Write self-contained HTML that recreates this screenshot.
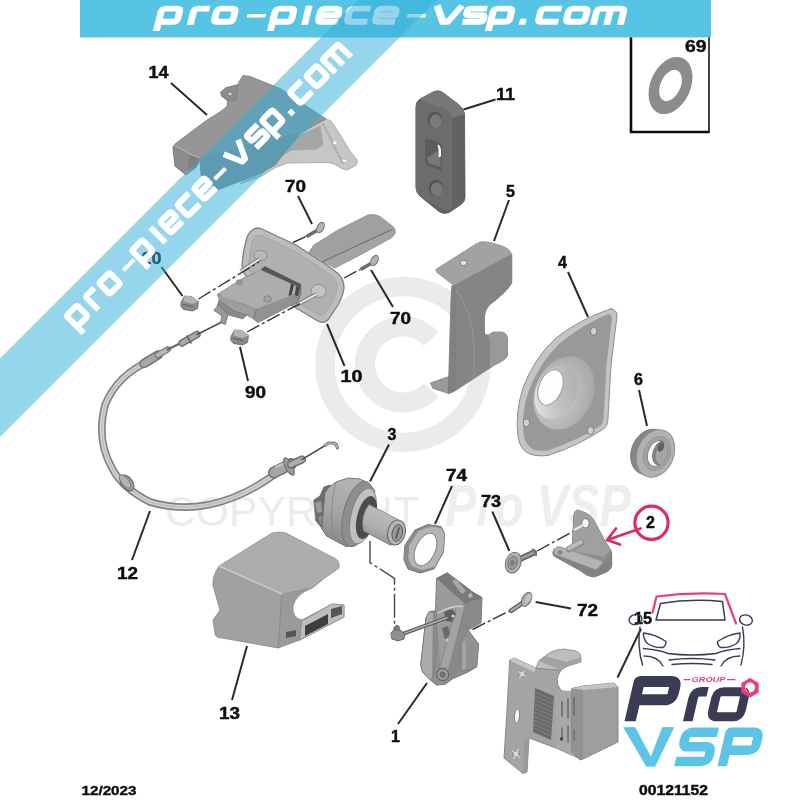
<!DOCTYPE html>
<html><head><meta charset="utf-8"><title>pro-piece-vsp.com</title>
<style>html,body{margin:0;padding:0;background:#fff;width:800px;height:800px;overflow:hidden;font-family:"Liberation Sans",sans-serif}svg{display:block}</style>
</head><body>
<svg width="800" height="800" viewBox="0 0 800 800" font-family="'Liberation Sans', sans-serif"><defs><filter id="soft" filterUnits="userSpaceOnUse" x="-20" y="-20" width="840" height="840"><feGaussianBlur stdDeviation="0.6"/></filter></defs>
<g filter="url(#soft)">
<rect x="-20" y="-20" width="840" height="840" fill="#fff"/>
<circle cx="403" cy="364.5" r="78" fill="none" stroke="#ebebeb" stroke-width="19.5"/><path d="M431.2,339.1A38,38 0 1 0 431.2,389.9" fill="none" stroke="#ebebeb" stroke-width="20"/><text x="165" y="526" font-size="43" fill="#ececec" textLength="254" lengthAdjust="spacingAndGlyphs">COPYRIGHT</text><text x="445" y="526" font-size="59" font-style="italic" font-weight="700" fill="#eeeeee" textLength="186" lengthAdjust="spacingAndGlyphs">Pro VSP</text>
<defs>
<linearGradient id="gA" x1="0" y1="0" x2="1" y2="1"><stop offset="0" stop-color="#a6a6a6"/><stop offset="1" stop-color="#8a8a8a"/></linearGradient>
<linearGradient id="gB" x1="0" y1="0" x2="0" y2="1"><stop offset="0" stop-color="#c4c4c4"/><stop offset="1" stop-color="#a2a2a2"/></linearGradient>
<linearGradient id="gC" x1="0" y1="0" x2="1" y2="0"><stop offset="0" stop-color="#8e8e8e"/><stop offset="0.5" stop-color="#d8d8d8"/><stop offset="1" stop-color="#8e8e8e"/></linearGradient>
<radialGradient id="gD" cx="0.4" cy="0.6" r="0.65"><stop offset="0" stop-color="#d4d4d4"/><stop offset="1" stop-color="#a6a6a6"/></radialGradient>
<linearGradient id="gE" x1="1" y1="0" x2="0" y2="1"><stop offset="0" stop-color="#a8a8a8"/><stop offset="0.6" stop-color="#c8c8c8"/><stop offset="1" stop-color="#efefef"/></linearGradient>
<linearGradient id="gCyl" x1="0.3" y1="0" x2="0" y2="1"><stop offset="0" stop-color="#bdbdbd"/><stop offset="0.45" stop-color="#b0b0b0"/><stop offset="1" stop-color="#858585"/></linearGradient>
<linearGradient id="gDrum" x1="0.5" y1="0" x2="0.35" y2="1"><stop offset="0" stop-color="#b4b4b4"/><stop offset="0.5" stop-color="#a6a6a6"/><stop offset="1" stop-color="#868686"/></linearGradient>
</defs><polygon points="300,128 325,118.5 331,121 340,134.5 349,149.5 357.5,160.5 356.5,165 347.5,170 341.5,168.5 334,164 328,162.5 287.5,163 275.5,167.5 262,176 240,184" fill="#c6c6c6" stroke="#a2a2a2" stroke-width="0.8" stroke-linejoin="round" /><polygon points="300,135 320.5,125.5 323.5,145 316,149.5 292,150.5 262,166" fill="#a6a6a6" /><path d="M323,124Q329,135 336,150L343,163" fill="none" stroke="#b0b0b0" stroke-width="2.2" stroke-linejoin="round" stroke-linecap="round" /><ellipse cx="334.8" cy="142.8" rx="1.8" ry="1.5" fill="#f6f6f6"/><ellipse cx="344.5" cy="160.8" rx="3" ry="1.9" transform="rotate(20 344.5 160.8)" fill="#f6f6f6" stroke="#999" stroke-width="0.6"/><polygon points="243,75.5 250,76.5 280,88.5 326,119 300,133 275,165 262,172.5 217.5,190 201,175 200,160 196,167.5 186,175 175,166 173,147 175,144 207,120 220,112 227,106.5 227.5,100.5 221.5,96 220.75,92.25 226,87.75 238,84.75 239.5,81" fill="#969696" stroke="#808080" stroke-width="0.9" stroke-linejoin="round" /><polygon points="173,147 189.5,154 188,169.5 182.5,172 175,166" fill="#8c8c8c" stroke="#7d7d7d" stroke-width="0.6" stroke-linejoin="round" /><polygon points="189.5,154 200,158 196,167.5 188,169.5" fill="#7f7f7f" /><polygon points="200,158 262,141 300,133 275,165 262,172.5 217.5,190 201,175" fill="#8a8a8a" /><path d="M175,145.5L189.5,154L200,158" fill="none" stroke="#b5b5b5" stroke-width="1" stroke-linejoin="round" stroke-linecap="round" /><polygon points="226,87.75 238,84.75 236,100 227.5,100.5 221.5,96 220.75,92.25" fill="#8c8c8c" stroke="#777" stroke-width="0.6" stroke-linejoin="round" /><ellipse cx="230" cy="94" rx="2.4" ry="2" fill="#c9c9c9" stroke="#6f6f6f" stroke-width="0.7"/><path d="M416,106Q416,102 420,99L434,91.5Q438,90 442,92L458,104Q464,109 464.5,114L465,197Q465,202 461,204.5L449,212.5Q444,215 439,211.5L421,197Q416,193 416,188Z" fill="#626262" stroke="#525252" stroke-width="0.8" stroke-linejoin="round" stroke-linecap="round" /><path d="M420,99L434,91.5Q438,90 442,92L458,104Q464,109 464.5,114L452,118Q450,111 445,109L424,101.5Z" fill="#777777" stroke-linejoin="round" stroke-linecap="round" /><path d="M416,108Q416,101 424,102L446,110Q451.5,112 451.5,119V203Q451.5,212 444,209.5L422,197Q416,193 416,187Z" fill="#6c6c6c" stroke="#747474" stroke-width="0.7" stroke-linejoin="round" stroke-linecap="round" /><ellipse cx="435" cy="120" rx="7.2" ry="8.2" fill="#555"/><ellipse cx="435.8" cy="121.2" rx="6" ry="6.8" fill="#7a7a7a"/><ellipse cx="436" cy="188" rx="7.2" ry="8.2" fill="#555"/><ellipse cx="436.8" cy="189.2" rx="6" ry="6.8" fill="#7a7a7a"/><path d="M425,141Q425,138 428,139L439,142.5Q442,143.5 442,147V167Q442,171 439,170L428,165.5Q425,164.5 425,161Z" fill="#5c5c5c" stroke-linejoin="round" stroke-linecap="round" /><path d="M427,158L437,151L440.5,158V167L429,163.5Z" fill="#787878" stroke-linejoin="round" stroke-linecap="round" /><path d="M437.5,144.5Q440.5,145 441,150V156Q440,158 438.5,156.5V150Z" fill="#f6f6f6" stroke-linejoin="round" stroke-linecap="round" /><polygon points="430.6,383 449,376.5 449,393.6 432.8,388.3" fill="#999999" stroke="#7c7c7c" stroke-width="0.8" stroke-linejoin="round" /><path d="M452,286L511.8,254.5V283Q506,293 490,304.5Q484.5,310 484.5,318V334L488,335.2L493.3,332H501.8Q507.5,333 507.5,340V355.5Q506,360 494.5,365L454,391.5L448.7,393.6L448.7,378L451,300Z" fill="#858585" stroke="#787878" stroke-width="0.8" stroke-linejoin="round" stroke-linecap="round" /><path d="M488,335.2L493.3,332H501.8Q507.5,333 507.5,340V355.5Q506,360 494.5,365L490,367.5V342Z" fill="#999999" stroke-linejoin="round" stroke-linecap="round" /><path d="M452,287L456,286V389L449,393Z" fill="#808080" stroke-linejoin="round" stroke-linecap="round" /><path d="M456,290Q472,310 474,345V378" fill="none" stroke="#9a9a9a" stroke-width="0.9" stroke-linejoin="round" stroke-linecap="round" /><path d="M436,269.3L476.3,243.8Q480,241.5 484,241.7L493.3,243.2Q497,244.5 501.8,246Q509,248 511.6,254L454,285.5L437,272.5Z" fill="#a2a2a2" stroke="#8c8c8c" stroke-width="0.8" stroke-linejoin="round" stroke-linecap="round" /><ellipse cx="463.6" cy="262.9" rx="3.3" ry="2.7" fill="#e4e4e4" stroke="#7a7a7a" stroke-width="0.9"/><path d="M611,308.7Q617,309.5 617,316L611,365L607.8,421Q607.5,426 604,428.5Q580,445 548,455.5Q533,457 526,452Q519,446 518,436Q515,412 523,388Q534,358 556,338Q580,319 611,308.7Z" fill="#c4c4c4" stroke="#8e8e8e" stroke-width="1.0" stroke-linejoin="round" stroke-linecap="round" /><path d="M608,314Q612,315 612,319L606.5,365L603.5,419Q603,424 600,426Q578,440 548,450.5Q535,452 530,447Q524,442 523.5,433Q521,412 529,390Q540,362 560,343Q582,325 608,314Z" fill="#999999" stroke-linejoin="round" stroke-linecap="round" /><ellipse cx="564" cy="393" rx="29" ry="38" transform="rotate(24 564 393)" fill="url(#gD)"/><ellipse cx="556" cy="392" rx="20" ry="28" transform="rotate(24 556 392)" fill="url(#gE)"/><ellipse cx="550.5" cy="387.5" rx="11.5" ry="18.5" transform="rotate(22 550.5 387.5)" fill="#fefefe" stroke="#9c9c9c" stroke-width="1"/><ellipse cx="593.7" cy="331.3" rx="3.3" ry="4" fill="#cfcfcf" stroke="#7e7e7e" stroke-width="1"/><ellipse cx="526.5" cy="422.8" rx="3.3" ry="4" fill="#cfcfcf" stroke="#7e7e7e" stroke-width="1"/><ellipse cx="590.6" cy="430.6" rx="3.3" ry="4" fill="#cfcfcf" stroke="#7e7e7e" stroke-width="1"/><clipPath id="c6"><ellipse cx="657.5" cy="453.5" rx="9.6" ry="13.6" transform="rotate(22 657.5 453.5)"/></clipPath><ellipse cx="649.5" cy="452" rx="18" ry="23.5" transform="rotate(22 649.5 452)" fill="#868686" stroke="#777" stroke-width="0.8"/><ellipse cx="655.5" cy="453.5" rx="18.3" ry="24.6" transform="rotate(22 655.5 453.5)" fill="#b1b1b1" stroke="#8a8a8a" stroke-width="0.9"/><ellipse cx="657" cy="453.5" rx="13" ry="17.6" transform="rotate(22 657 453.5)" fill="#a2a2a2" stroke="#929292" stroke-width="0.7"/><ellipse cx="657.5" cy="453.5" rx="9.6" ry="13.6" transform="rotate(22 657.5 453.5)" fill="#fbfbfb" stroke="#7a7a7a" stroke-width="0.8"/><g clip-path="url(#c6)"><ellipse cx="662.3" cy="453" rx="9.6" ry="13.6" transform="rotate(22 662.3 453)" fill="#828282"/><ellipse cx="664.3" cy="453" rx="8" ry="12" transform="rotate(22 664.3 453)" fill="#a6a6a6"/><ellipse cx="661" cy="447" rx="3" ry="5" transform="rotate(22 661 447)" fill="#5e5e5e"/></g><ellipse cx="670.5" cy="85.5" rx="20" ry="30" transform="rotate(24 670.5 85.5)" fill="#8c8c8c"/><ellipse cx="670.5" cy="85.5" rx="10" ry="16.5" transform="rotate(24 670.5 85.5)" fill="#fff"/><path d="M150,361Q118,374 105,405Q96,440 112,468Q122,488 150,502Q190,514 232,498Q258,488 280,470" fill="none" stroke="#808080" stroke-width="7.6" stroke-linejoin="round" stroke-linecap="round" /><path d="M150,361Q118,374 105,405Q96,440 112,468Q122,488 150,502Q190,514 232,498Q258,488 280,470" fill="none" stroke="#d2d2d2" stroke-width="4.4" stroke-linejoin="round" stroke-linecap="round" /><path d="M150,361Q118,374 105,405Q96,440 112,468Q122,488 150,502Q190,514 232,498Q258,488 280,470" fill="none" stroke="#bdbdbd" stroke-width="1.4" stroke-linejoin="round" stroke-linecap="round" /><path d="M144,363.5L158,355" fill="none" stroke="#707070" stroke-width="9.6" stroke-linejoin="round" stroke-linecap="round" stroke-linecap="butt"/><path d="M144,363.5L158,355" fill="none" stroke="#a8a8a8" stroke-width="6.6" stroke-linejoin="round" stroke-linecap="round" stroke-linecap="butt"/><path d="M158,355L167.5,349.5" fill="none" stroke="#7a7a7a" stroke-width="6.6" stroke-linejoin="round" stroke-linecap="round" stroke-linecap="butt"/><path d="M158,355L167.5,349.5" fill="none" stroke="#b8b8b8" stroke-width="4" stroke-linejoin="round" stroke-linecap="round" stroke-linecap="butt"/><path d="M167.5,349.5L182,342.5" fill="none" stroke="#666" stroke-width="2.2" stroke-linejoin="round" stroke-linecap="round" /><path d="M182,343L197,334.5" fill="none" stroke="#6f6f6f" stroke-width="7.4" stroke-linejoin="round" stroke-linecap="round" stroke-linecap="butt"/><path d="M182,343L197,334.5" fill="none" stroke="#a9a9a9" stroke-width="4.6" stroke-linejoin="round" stroke-linecap="round" stroke-linecap="butt"/><path d="M187,336L191,343" fill="none" stroke="#6a6a6a" stroke-width="1.6" stroke-linejoin="round" stroke-linecap="round" /><path d="M197,334.5L221,322.5" fill="none" stroke="#4a4a4a" stroke-width="1.4" stroke-linejoin="round" stroke-linecap="round" /><ellipse cx="127" cy="483" rx="5.5" ry="9" transform="rotate(-38 127 483)" fill="#9c9c9c" stroke="#666" stroke-width="1.1"/><ellipse cx="125" cy="481.5" rx="3.6" ry="8" transform="rotate(-38 125 481.5)" fill="#b4b4b4" stroke="#777" stroke-width="0.8"/><path d="M274,472.5L291,464" fill="none" stroke="#6f6f6f" stroke-width="12" stroke-linejoin="round" stroke-linecap="round" stroke-linecap="butt"/><path d="M274,472.5L291,464" fill="none" stroke="#a6a6a6" stroke-width="9" stroke-linejoin="round" stroke-linecap="round" stroke-linecap="butt"/><path d="M276,467L288,461.5" fill="none" stroke="#c4c4c4" stroke-width="2.4" stroke-linejoin="round" stroke-linecap="round" stroke-linecap="butt"/><ellipse cx="289" cy="466.5" rx="3.6" ry="9.6" transform="rotate(-27 289 466.5)" fill="#9a9a9a" stroke="#646464" stroke-width="1"/><path d="M291,464.5L302,459.5" fill="none" stroke="#707070" stroke-width="8" stroke-linejoin="round" stroke-linecap="round" stroke-linecap="butt"/><path d="M291,464.5L302,459.5" fill="none" stroke="#acacac" stroke-width="5.2" stroke-linejoin="round" stroke-linecap="round" stroke-linecap="butt"/><path d="M302,459.5L326,445" fill="none" stroke="#555" stroke-width="1.5" stroke-linejoin="round" stroke-linecap="round" /><path d="M325,445.5L328.5,443H334Q337,444.5 337.5,448" fill="none" stroke="#777" stroke-width="3.2" stroke-linejoin="round" stroke-linecap="round" /><path d="M325,445.5L328.5,443H334Q337,444.5 337.5,448" fill="none" stroke="#c0c0c0" stroke-width="1.2" stroke-linejoin="round" stroke-linecap="round" /><path d="M309,252L314,245L338,230L368,215Q374,213.5 380,216.5L393.5,227Q396,230 395,233.5L392,237.5L362,254L335,268Z" fill="#a0a0a0" stroke="#888888" stroke-width="0.8" stroke-linejoin="round" stroke-linecap="round" /><path d="M322,262L392,229.5Q396,230.5 395,233.5L392,237.5L362,254L335,268Z" fill="#a4a4a4" stroke-linejoin="round" stroke-linecap="round" /><path d="M322,262L392,229.5" fill="none" stroke="#707070" stroke-width="1.1" stroke-linejoin="round" stroke-linecap="round" /><path d="M252.5,230Q256,227 261,228.5L296,245L326,264.5L338,273.5Q344,279 344,288Q343,296 338,305L329,318.5Q324,325 317,320.5L296,308L250,280Q242,274 242,264.5L243.5,252L246.5,239Q248,233 252.5,230Z" fill="#bcbcbc" stroke="#7f7f7f" stroke-width="1.3" stroke-linejoin="round" stroke-linecap="round" /><path d="M256,236Q259,234 263,236L296,252L324,270L333,277Q338,282 337,289Q336,296 332,303L325,313Q322,317 317,314L296,302L254,276Q248,272 248.5,265L250,253L252,242Q253,238 256,236Z" fill="#b0b0b0" stroke="#9a9a9a" stroke-width="0.6" stroke-linejoin="round" stroke-linecap="round" /><ellipse cx="260.5" cy="255.5" rx="6.5" ry="5.2" fill="#b8b8b8" stroke="#858585" stroke-width="0.8"/><ellipse cx="318.5" cy="291" rx="7.5" ry="6.5" fill="#c4c4c4" stroke="#858585" stroke-width="0.8"/><line x1="260" y1="258.75" x2="240.5" y2="271.5" stroke="#6a6a6a" stroke-width="3.6"/><line x1="260" y1="258.75" x2="240.5" y2="271.5" stroke="#e6e6e6" stroke-width="2"/><path d="M217.8,294.4L243,278.4L260,271L264.7,266.5L301,284.5V294L297.5,302L258,322.5L253.4,318.75L246.9,315L233.75,311.25L220.6,302Z" fill="#8c8c8c" stroke="#707070" stroke-width="0.9" stroke-linejoin="round" stroke-linecap="round" /><polygon points="260,270.5 264.7,266.5 301,284.5 298.4,296.25 294.7,294.4 297.5,286.9" fill="#545454" /><path d="M218.5,293.5L243,278.4L261,270L297.5,286.5L294.7,294.4L256.25,309.4L245,304.7L222.5,297.2Z" fill="#adadad" stroke="#8a8a8a" stroke-width="0.5" stroke-linejoin="round" stroke-linecap="round" /><polygon points="256.25,309.4 294.7,294.4 297.5,302 258,322.5 253.4,318.75" fill="#929292" /><polygon points="217.8,295.3 245,305.6 256.25,310.3 253.4,318.75 246.9,315 233.75,311.25 220.6,302" fill="#9e9e9e" /><path d="M256.25,309.8L253.6,318.5" fill="none" stroke="#6f6f6f" stroke-width="0.8" stroke-linejoin="round" stroke-linecap="round" /><polygon points="291,283.5 294,285 291.5,295 288.5,296" fill="#444" /><polygon points="296,286 298.5,287.5 297,296 295,295" fill="#444" /><ellipse cx="239.4" cy="282.2" rx="3" ry="2.4" fill="#9c9c9c" stroke="#777" stroke-width="0.7"/><ellipse cx="267.5" cy="299" rx="3.8" ry="3.2" fill="#a2a2a2" stroke="#777" stroke-width="0.7"/><polygon points="219,300 234,311 246.9,315 243,319 228,315 217,306" fill="#8a8a8a" stroke="#707070" stroke-width="0.6" stroke-linejoin="round" /><path d="M214,310L218.75,304.7L228,314.5L225.3,324.4L220.6,322.5L221.8,316Z" fill="#9a9a9a" stroke="#6c6c6c" stroke-width="0.8" stroke-linejoin="round" stroke-linecap="round" /><line x1="316.5" y1="294.2" x2="296" y2="305.4" stroke="#6a6a6a" stroke-width="3.8"/><line x1="316.5" y1="294.2" x2="296" y2="305.4" stroke="#e6e6e6" stroke-width="2.2"/><line x1="306.5" y1="236.5" x2="317" y2="230.5" stroke="#5f5f5f" stroke-width="3.4"/><line x1="306.5" y1="236.5" x2="317" y2="230.5" stroke="#8a8a8a" stroke-width="1.2" stroke-dasharray="1 1"/><ellipse cx="320.5" cy="227.5" rx="3.3" ry="5.6" transform="rotate(28 320.5 227.5)" fill="#b2b2b2" stroke="#6a6a6a" stroke-width="0.9"/><line x1="360.5" y1="269.5" x2="371" y2="263.5" stroke="#5f5f5f" stroke-width="3.4"/><line x1="360.5" y1="269.5" x2="371" y2="263.5" stroke="#8a8a8a" stroke-width="1.2" stroke-dasharray="1 1"/><ellipse cx="374.5" cy="260.5" rx="3.3" ry="5.6" transform="rotate(28 374.5 260.5)" fill="#b2b2b2" stroke="#6a6a6a" stroke-width="0.9"/><line x1="198.5" y1="299" x2="259" y2="262" stroke="#333" stroke-width="1.4" stroke-dasharray="14 3 3 3"/><line x1="247" y1="332" x2="300" y2="303.5" stroke="#333" stroke-width="1.4" stroke-dasharray="14 3 3 3"/><line x1="293" y1="242.5" x2="306" y2="236.5" stroke="#333" stroke-width="1.4" stroke-dasharray="14 3 3 3"/><line x1="344" y1="278" x2="360" y2="269.5" stroke="#333" stroke-width="1.4" stroke-dasharray="14 3 3 3"/><path d="M181.0,302.5L184.5,296.0L191.5,296.5L198.5,301.5L197.5,308.5L192.5,311.0L183.5,309.5L181.0,306.5Z" fill="#8a8a8a" stroke="#666" stroke-width="0.8" stroke-linejoin="round" stroke-linecap="round" /><path d="M184.5,296.0L191.5,296.5L198.5,301.5L192.5,304.0L183.5,301.5Z" fill="#b4b4b4" stroke-linejoin="round" stroke-linecap="round" /><path d="M183.5,304.5L192.5,306.5" fill="none" stroke="#5f5f5f" stroke-width="1.2" stroke-linejoin="round" stroke-linecap="round" /><path d="M231.0,336.5L234.5,330.0L241.5,330.5L248.5,335.5L247.5,342.5L242.5,345.0L233.5,343.5L231.0,340.5Z" fill="#8a8a8a" stroke="#666" stroke-width="0.8" stroke-linejoin="round" stroke-linecap="round" /><path d="M234.5,330.0L241.5,330.5L248.5,335.5L242.5,338.0L233.5,335.5Z" fill="#b4b4b4" stroke-linejoin="round" stroke-linecap="round" /><path d="M233.5,338.5L242.5,340.5" fill="none" stroke="#5f5f5f" stroke-width="1.2" stroke-linejoin="round" stroke-linecap="round" /><path d="M219,566Q212,576 213,586L220,610L213,620L215,634Q216,638 222,638L278,648L282,594Z" fill="#a1a1a1" stroke="#8a8a8a" stroke-width="0.8" stroke-linejoin="round" stroke-linecap="round" /><path d="M282,594L278,648L300,640L344,617V605L332,604L302,620Q292,618 293,606Q296,594 312,588L322,580Z" fill="#9a9a9a" stroke="#868686" stroke-width="0.8" stroke-linejoin="round" stroke-linecap="round" /><path d="M302,621L332,604L344,605V617L300,640Z" fill="#bdbdbd" stroke="#868686" stroke-width="0.6" stroke-linejoin="round" stroke-linecap="round" /><path d="M305,626L328,614V624L305,636Z" fill="#3e3e3e" stroke-linejoin="round" stroke-linecap="round" /><path d="M331,609L342,606V614L331,618Z" fill="#555" stroke-linejoin="round" stroke-linecap="round" /><path d="M286,632L296,630V636L286,638Z" fill="#555" stroke-linejoin="round" stroke-linecap="round" /><path d="M219,566L272,533Q280,531 286,533L336,559Q340,562 339,568L322,580L312,588L282,594Z" fill="#adadad" stroke="#8f8f8f" stroke-width="0.8" stroke-linejoin="round" stroke-linecap="round" /><path d="M219,566L282,594" fill="none" stroke="#c9c9c9" stroke-width="1.6" stroke-linejoin="round" stroke-linecap="round" /><path d="M370,541V562.5L394.5,578.5V632" fill="none" stroke="#444" stroke-width="1.4" stroke-dasharray="24 3 3 3"/><path d="M314,500L320,496L324,487L330,485L332,538L326.5,535L321,527L316,521Z" fill="#6e6e6e" stroke="#555" stroke-width="0.7" stroke-linejoin="round" stroke-linecap="round" /><path d="M315,503L321,501L322,512L317,513Z" fill="#9a9a9a" stroke-linejoin="round" stroke-linecap="round" /><path d="M318,517L323,516L324,526L320,524Z" fill="#8a8a8a" stroke-linejoin="round" stroke-linecap="round" /><path d="M325,493L328,488L336,482L348,478L360,479Q370,483 375,491L356,545L346,546.5L326.5,536L322,529Z" fill="url(#gDrum)" stroke="#6d6d6d" stroke-width="0.9" stroke-linejoin="round" stroke-linecap="round" /><path d="M336,482.5Q329,505 333,539" fill="none" stroke="#858585" stroke-width="0.9" stroke-linejoin="round" stroke-linecap="round" /><ellipse cx="358" cy="514" rx="14.5" ry="33.5" transform="rotate(14 358 514)" fill="#8e8e8e" stroke="#747474" stroke-width="0.9"/><ellipse cx="363" cy="516" rx="12" ry="28.5" transform="rotate(14 363 516)" fill="#c0c0c0" stroke="#808080" stroke-width="0.8"/><ellipse cx="366.5" cy="517.5" rx="9.5" ry="22" transform="rotate(14 366.5 517.5)" fill="#4c4c4c"/><path d="M369,504.5L398,519.5L391,545.5L363.5,531Q360,516 369,504.5Z" fill="url(#gCyl)" stroke="#707070" stroke-width="0.7" stroke-linejoin="round" stroke-linecap="round" /><ellipse cx="396.5" cy="532.5" rx="8.8" ry="12.6" transform="rotate(13 396.5 532.5)" fill="#b8b8b8" stroke="#646464" stroke-width="1"/><ellipse cx="397.3" cy="533" rx="5.2" ry="8.6" transform="rotate(13 397.3 533)" fill="#969696" stroke="#555" stroke-width="0.9"/><path d="M399,528L396,538" fill="none" stroke="#555" stroke-width="1.6" stroke-linejoin="round" stroke-linecap="round" /><path d="M405,545L415,530L428,524.5L441,526.5L444.5,533L443.5,552L434,569L420,573L408,569L404,560Z" fill="#8c8c8c" stroke="#6e6e6e" stroke-width="0.9" stroke-linejoin="round" stroke-linecap="round" /><path d="M409,545.5L418,531L430,526L441.5,528L444.5,534L443.5,551L435,567L422,570.5L411.5,566.5L408,559Z" fill="#b4b4b4" stroke="#858585" stroke-width="0.6" stroke-linejoin="round" stroke-linecap="round" /><ellipse cx="425.5" cy="549.5" rx="9.8" ry="17.2" transform="rotate(24 425.5 549.5)" fill="#fdfdfd" stroke="#8a8a8a" stroke-width="1"/><path d="M447,573L436.5,578.4L435.6,610.75L429.5,611.6L426,617.75L420.75,665L422.5,672L431.25,680.75L436.5,685L445.25,684.25L452.25,679L468,672L476.75,666.75L478.5,644L468,630L481,623L482,597.6L473.25,592.4Z" fill="#8e8e8e" stroke="#6c6c6c" stroke-width="0.9" stroke-linejoin="round" stroke-linecap="round" /><path d="M437,578.8L436,611L440,668L452,672L466,604Z" fill="#9b9b9b" stroke-linejoin="round" stroke-linecap="round" /><path d="M465,603.5L482,598L481,623L468,630L461,642V669L452.5,678.5L446,676Z" fill="#898989" stroke-linejoin="round" stroke-linecap="round" /><path d="M447,573.3L437.2,578.6L465,603.5L470.5,600.5L482,597.8L473.25,592.6Z" fill="#7a7a7a" stroke="#6a6a6a" stroke-width="0.5" stroke-linejoin="round" stroke-linecap="round" /><path d="M452,581L456,579L466,591L462,594Z" fill="#a8a8a8" stroke-linejoin="round" stroke-linecap="round" /><path d="M468,594L472,593L472.5,597L469,598Z" fill="#b5b5b5" stroke-linejoin="round" stroke-linecap="round" /><path d="M461,642L468,630L478.5,644L476.75,666.75L461.5,671.5Z" fill="#929292" stroke="#787878" stroke-width="0.6" stroke-linejoin="round" stroke-linecap="round" /><path d="M462,644L466,640V668L462,670Z" fill="#a4a4a4" stroke-linejoin="round" stroke-linecap="round" /><path d="M457,606L465.5,604L449,668L440,668Z" fill="#a3a3a3" stroke="#7a7a7a" stroke-width="0.6" stroke-linejoin="round" stroke-linecap="round" /><path d="M438,613Q450,606 462,606" fill="none" stroke="#d0d0d0" stroke-width="1.4" stroke-linejoin="round" stroke-linecap="round" /><path d="M444,612L452,609L456,614L452,622L446,621Z" fill="#5e5e5e" stroke-linejoin="round" stroke-linecap="round" /><path d="M442,628L448,626L450,634L445,640Z" fill="#6a6a6a" stroke-linejoin="round" stroke-linecap="round" /><circle cx="447" cy="640" r="1.6" fill="#c8c8c8"/><circle cx="453" cy="616" r="1.5" fill="#d4d4d4"/><path d="M429.5,611.6L436,612.5L437,645L434,672L431.25,680.75L422.5,672L420.75,665L426,617.75Z" fill="#ababab" stroke="#757575" stroke-width="0.8" stroke-linejoin="round" stroke-linecap="round" /><path d="M433,613L436,612.5L437,645L434,672L432,676Z" fill="#8a8a8a" stroke-linejoin="round" stroke-linecap="round" /><circle cx="442.6" cy="674.6" r="6" fill="#999" stroke="#5a5a5a" stroke-width="1"/><circle cx="442.6" cy="674.6" r="2.6" fill="#707070" stroke="#5a5a5a" stroke-width="0.6"/><path d="M401.5,634.4L447,617.75" fill="none" stroke="#5e5e5e" stroke-width="3.8" stroke-linejoin="round" stroke-linecap="round" /><path d="M401.5,634.4L447,617.75" fill="none" stroke="#b0b0b0" stroke-width="1.5" stroke-linejoin="round" stroke-linecap="round" /><path d="M391,633L394,629.5L400,630L405,634L404,639L398,641L392,639Z" fill="#909090" stroke="#555" stroke-width="0.8" stroke-linejoin="round" stroke-linecap="round" /><path d="M394,629.5L396,625L399,626L400,630Z" fill="#7c7c7c" stroke="#555" stroke-width="0.6" stroke-linejoin="round" stroke-linecap="round" /><line x1="472.5" y1="629.5" x2="509.5" y2="611" stroke="#333" stroke-width="1.4" stroke-dasharray="14 3 3 3"/><line x1="537" y1="551" x2="585" y2="525" stroke="#333" stroke-width="1.4" stroke-dasharray="14 3 3 3"/><path d="M519,559.5L534,552.5" fill="none" stroke="#5e5e5e" stroke-width="6" stroke-linejoin="round" stroke-linecap="round" stroke-linecap="butt"/><path d="M519,559.5L534,552.5" fill="none" stroke="#9e9e9e" stroke-width="3" stroke-linejoin="round" stroke-linecap="round" stroke-linecap="butt"/><path d="M533,549.5L536,555" fill="none" stroke="#777" stroke-width="2.4" stroke-linejoin="round" stroke-linecap="round" /><ellipse cx="513.3" cy="562.7" rx="7.6" ry="10.6" transform="rotate(18 513.3 562.7)" fill="#b0b0b0" stroke="#707070" stroke-width="1"/><ellipse cx="512.6" cy="562.9" rx="4.6" ry="6.6" transform="rotate(18 512.6 562.9)" fill="#9a9a9a" stroke="#6e6e6e" stroke-width="0.8"/><ellipse cx="512.4" cy="563" rx="2" ry="3" transform="rotate(18 512.4 563)" fill="#7a7a7a"/><path d="M511.5,610.5L524,602" fill="none" stroke="#5e5e5e" stroke-width="5" stroke-linejoin="round" stroke-linecap="round" stroke-linecap="butt"/><path d="M511.5,610.5L524,602" fill="none" stroke="#a6a6a6" stroke-width="2.4" stroke-linejoin="round" stroke-linecap="round" stroke-linecap="butt"/><ellipse cx="526.6" cy="599.4" rx="4.4" ry="7.6" transform="rotate(28 526.6 599.4)" fill="#b4b4b4" stroke="#6c6c6c" stroke-width="1"/><ellipse cx="528" cy="598.6" rx="3" ry="6" transform="rotate(28 528 598.6)" fill="#c4c4c4" stroke="#8a8a8a" stroke-width="0.6"/><path d="M573.7,518Q573.5,510 578,510L585.5,512.8Q590.5,515 593.4,519.4L603.9,539L610.4,549.5Q612,552 611.7,558V566.6Q610,571 603.9,573Q598,576 593.4,577Q586,576 580.2,570.5L554,556Q551.5,552.5 554,549.5Q557,546 560.5,547L571,552L572.4,543Z" fill="#8d8d8d" stroke="#6e6e6e" stroke-width="0.9" stroke-linejoin="round" stroke-linecap="round" /><path d="M573.7,518Q573.5,510 578,510L585.5,512.8Q590.5,515 593.4,519.4L603.9,539L610.4,549.5L604,557L572,551Z" fill="#a0a0a0" stroke-linejoin="round" stroke-linecap="round" /><path d="M554,549.5Q557,546 560.5,547L603,561.5Q600,567 596,570L556,555Q552.5,552.5 554,549.5Z" fill="#b3b3b3" stroke="#8a8a8a" stroke-width="0.5" stroke-linejoin="round" stroke-linecap="round" /><path d="M556,555L596,570Q604,566 610.4,552V566.6Q610,571 603.9,573Q598,576 593.4,577Q586,576 580.2,570.5L554,556Z" fill="#838383" stroke-linejoin="round" stroke-linecap="round" /><path d="M569,549L581,542.5" fill="none" stroke="#8a8a8a" stroke-width="6.5" stroke-linejoin="round" stroke-linecap="round" /><path d="M569,548.5L581,542" fill="none" stroke="#bcbcbc" stroke-width="4" stroke-linejoin="round" stroke-linecap="round" /><ellipse cx="585.5" cy="523.3" rx="3.6" ry="4.6" fill="#fbfbfb" stroke="#747474" stroke-width="0.9"/><path d="M585,524L575,529.5" fill="none" stroke="#e6e6e6" stroke-width="2.2" stroke-linejoin="round" stroke-linecap="round" /><ellipse cx="560" cy="552.5" rx="2" ry="1.7" fill="#8a8a8a" stroke="#666" stroke-width="0.6"/><path d="M510,660L514,658L536,668L561,670Q554,680 560,689Q565,695 572,691L578,758L556,748L529,738L527,772L523,773.5L504,758L507,710Z" fill="#a4a4a4" stroke="#808080" stroke-width="0.9" stroke-linejoin="round" stroke-linecap="round" /><path d="M510,660L514,658L536,668L534,672L513,662Z" fill="#c6c6c6" stroke-linejoin="round" stroke-linecap="round" /><path d="M529,738L527,772L523,773.5L524.5,737Z" fill="#9a9a9a" stroke-linejoin="round" stroke-linecap="round" /><path d="M536,668L539,660.5L550,652.5Q557,649 564,649L576,651Q581,653 581,657.5V662L568,666L561,670Z" fill="#bdbdbd" stroke="#858585" stroke-width="0.8" stroke-linejoin="round" stroke-linecap="round" /><path d="M539,661L561,670L568,666L581,662V657.5L566,662L545,656Z" fill="#a2a2a2" stroke-linejoin="round" stroke-linecap="round" /><path d="M556,690L572,691L578,758L556,748Z" fill="#a8a8a8" stroke-linejoin="round" stroke-linecap="round" /><path d="M572,688.5L583,686L614,683L618,687V742L583,759L580,760L572,752Z" fill="#9e9e9e" stroke="#808080" stroke-width="0.9" stroke-linejoin="round" stroke-linecap="round" /><path d="M572,688.5L583,686V759L580,760L572,752Z" fill="#929292" stroke-linejoin="round" stroke-linecap="round" /><path d="M572,688.5L583,686L614,683L618,687L584,690Z" fill="#c4c4c4" stroke-linejoin="round" stroke-linecap="round" /><path d="M535,688L554,696L551,740L533,732Z" fill="#6b6b6b" stroke-linejoin="round" stroke-linecap="round" /><line x1="534.8" y1="692.0" x2="553.7" y2="700.0" stroke="#8a8a8a" stroke-width="0.7"/><line x1="534.6" y1="696.0" x2="553.5" y2="704.0" stroke="#8a8a8a" stroke-width="0.7"/><line x1="534.5" y1="700.0" x2="553.2" y2="708.0" stroke="#8a8a8a" stroke-width="0.7"/><line x1="534.3" y1="704.0" x2="552.9" y2="712.0" stroke="#8a8a8a" stroke-width="0.7"/><line x1="534.1" y1="708.0" x2="552.6" y2="716.0" stroke="#8a8a8a" stroke-width="0.7"/><line x1="533.9" y1="712.0" x2="552.4" y2="720.0" stroke="#8a8a8a" stroke-width="0.7"/><line x1="533.7" y1="716.0" x2="552.1" y2="724.0" stroke="#8a8a8a" stroke-width="0.7"/><line x1="533.6" y1="720.0" x2="551.8" y2="728.0" stroke="#8a8a8a" stroke-width="0.7"/><line x1="533.4" y1="724.0" x2="551.6" y2="732.0" stroke="#8a8a8a" stroke-width="0.7"/><line x1="533.2" y1="728.0" x2="551.3" y2="736.0" stroke="#8a8a8a" stroke-width="0.7"/><path d="M562,702V716M568,699V718M574,698V715" fill="none" stroke="#6a6a6a" stroke-width="1.6" stroke-linejoin="round" stroke-linecap="round" /><path d="M562,728V738M568,726V742M574,730V740" fill="none" stroke="#707070" stroke-width="1.6" stroke-linejoin="round" stroke-linecap="round" /><circle cx="561.5" cy="739" r="1.8" fill="#444"/><ellipse cx="517" cy="716" rx="2.6" ry="7" transform="rotate(5 517 716)" fill="#f6f6f6" stroke="#7a7a7a" stroke-width="0.9"/><path d="M519,672L525,676M524,671L520,677" fill="none" stroke="#dcdcdc" stroke-width="2" stroke-linejoin="round" stroke-linecap="round" /><path d="M513,751L519,757M518,750L514,758" fill="none" stroke="#dcdcdc" stroke-width="2" stroke-linejoin="round" stroke-linecap="round" /><circle cx="522" cy="674" r="3.6" fill="none" stroke="#8a8a8a" stroke-width="0.7"/><circle cx="516" cy="754" r="3.6" fill="none" stroke="#8a8a8a" stroke-width="0.7"/>
<line x1="171" y1="83" x2="207" y2="115" stroke="#2a2a2a" stroke-width="2.0" />
<line x1="495.5" y1="99.5" x2="463.5" y2="109.5" stroke="#2a2a2a" stroke-width="2.0" />
<line x1="509" y1="200" x2="494" y2="241" stroke="#2a2a2a" stroke-width="2.0" />
<line x1="568" y1="272" x2="588" y2="317" stroke="#2a2a2a" stroke-width="2.0" />
<line x1="639" y1="390" x2="647" y2="426" stroke="#2a2a2a" stroke-width="2.0" />
<line x1="298" y1="196" x2="312" y2="224" stroke="#2a2a2a" stroke-width="2.0" />
<line x1="393" y1="307" x2="371" y2="270" stroke="#2a2a2a" stroke-width="2.0" />
<line x1="161.5" y1="267" x2="182.5" y2="296" stroke="#2a2a2a" stroke-width="2.0" />
<line x1="248" y1="381" x2="240" y2="347" stroke="#2a2a2a" stroke-width="2.0" />
<line x1="344.5" y1="366" x2="327" y2="324" stroke="#2a2a2a" stroke-width="2.0" />
<line x1="389" y1="444.5" x2="370" y2="481.5" stroke="#2a2a2a" stroke-width="2.0" />
<line x1="452" y1="486" x2="435" y2="524" stroke="#2a2a2a" stroke-width="2.0" />
<line x1="492.3" y1="511.5" x2="509.4" y2="551" stroke="#2a2a2a" stroke-width="2.0" />
<line x1="571" y1="608.6" x2="535.6" y2="602" stroke="#2a2a2a" stroke-width="2.0" />
<line x1="641" y1="628.75" x2="617.5" y2="677.5" stroke="#2a2a2a" stroke-width="2.0" />
<line x1="132" y1="560" x2="150" y2="511" stroke="#2a2a2a" stroke-width="2.0" />
<line x1="232" y1="700" x2="247" y2="646" stroke="#2a2a2a" stroke-width="2.0" />
<line x1="398" y1="724" x2="427" y2="683" stroke="#2a2a2a" stroke-width="2.0" />
<text x="148.5" y="77.7" font-size="16" font-weight="700" fill="#111" stroke="#111" stroke-width="0.45" textLength="20" lengthAdjust="spacingAndGlyphs">14</text>
<text x="496" y="100.2" font-size="16" font-weight="700" fill="#111" stroke="#111" stroke-width="0.45" textLength="19" lengthAdjust="spacingAndGlyphs">11</text>
<text x="685" y="51.9" font-size="16" font-weight="700" fill="#111" stroke="#111" stroke-width="0.45" textLength="21.5" lengthAdjust="spacingAndGlyphs">69</text>
<text x="506" y="197.2" font-size="16" font-weight="700" fill="#111" stroke="#111" stroke-width="0.45">5</text>
<text x="558" y="268.2" font-size="16" font-weight="700" fill="#111" stroke="#111" stroke-width="0.45">4</text>
<text x="634" y="385.2" font-size="16" font-weight="700" fill="#111" stroke="#111" stroke-width="0.45">6</text>
<text x="285" y="192.2" font-size="16" font-weight="700" fill="#111" stroke="#111" stroke-width="0.45" textLength="21" lengthAdjust="spacingAndGlyphs">70</text>
<text x="390" y="324.2" font-size="16" font-weight="700" fill="#111" stroke="#111" stroke-width="0.45" textLength="21" lengthAdjust="spacingAndGlyphs">70</text>
<text x="141.5" y="264.4" font-size="16" font-weight="700" fill="#111" stroke="#111" stroke-width="0.45" textLength="20" lengthAdjust="spacingAndGlyphs">20</text>
<text x="245" y="398.2" font-size="16" font-weight="700" fill="#111" stroke="#111" stroke-width="0.45" textLength="21" lengthAdjust="spacingAndGlyphs">90</text>
<text x="340.5" y="382.2" font-size="16" font-weight="700" fill="#111" stroke="#111" stroke-width="0.45" textLength="22" lengthAdjust="spacingAndGlyphs">10</text>
<text x="387.5" y="439.7" font-size="16" font-weight="700" fill="#111" stroke="#111" stroke-width="0.45">3</text>
<text x="446" y="480.7" font-size="16" font-weight="700" fill="#111" stroke="#111" stroke-width="0.45" textLength="21" lengthAdjust="spacingAndGlyphs">74</text>
<text x="481" y="506.6" font-size="16" font-weight="700" fill="#111" stroke="#111" stroke-width="0.45" textLength="20" lengthAdjust="spacingAndGlyphs">73</text>
<text x="646" y="527.7" font-size="16" font-weight="700" fill="#111" stroke="#111" stroke-width="0.45">2</text>
<text x="577" y="615.7" font-size="16" font-weight="700" fill="#111" stroke="#111" stroke-width="0.45" textLength="21" lengthAdjust="spacingAndGlyphs">72</text>
<text x="634" y="623.5" font-size="16" font-weight="700" fill="#111" stroke="#111" stroke-width="0.45" textLength="18" lengthAdjust="spacingAndGlyphs">15</text>
<text x="117" y="579.2" font-size="16" font-weight="700" fill="#111" stroke="#111" stroke-width="0.45" textLength="21" lengthAdjust="spacingAndGlyphs">12</text>
<text x="219" y="719.2" font-size="16" font-weight="700" fill="#111" stroke="#111" stroke-width="0.45" textLength="21" lengthAdjust="spacingAndGlyphs">13</text>
<text x="391" y="742.2" font-size="16" font-weight="700" fill="#111" stroke="#111" stroke-width="0.45">1</text>
<text x="81.5" y="794.8" font-size="13.5" font-weight="700" fill="#111" stroke="#111" stroke-width="0.45" textLength="55" lengthAdjust="spacingAndGlyphs">12/2023</text>
<text x="639" y="794.8" font-size="14" font-weight="700" fill="#111" stroke="#111" stroke-width="0.45" textLength="69" lengthAdjust="spacingAndGlyphs">00121152</text>
<path d="M631,37V132H709.5" fill="none" stroke="#111" stroke-width="2.6"/><path d="M709,37V133" fill="none" stroke="#222" stroke-width="1.7"/>
<circle cx="651.5" cy="522.8" r="16.6" fill="none" stroke="#d42e6c" stroke-width="3.2"/>
<path d="M640.5,528.5L607,540M616,528.5L607,540L620,544.5" fill="none" stroke="#d42e6c" stroke-width="2.8" stroke-linecap="round" stroke-linejoin="round"/>
<path d="M652.5,612.5L656.5,596.5Q690,592 725,594L736,623.5" fill="none" stroke="#e5417d" stroke-width="2.2" stroke-linejoin="round" stroke-linecap="round" /><path d="M656,620H725L722.5,601.5Q690,598.5 660.5,603.5Z" fill="none" stroke="#3a3b54" stroke-width="1.5" stroke-linejoin="round" stroke-linecap="round" /><ellipse cx="635.5" cy="619.5" rx="6.5" ry="5" transform="rotate(-15 635.5 619.5)" fill="none" stroke="#3a3b54" stroke-width="1.4"/><ellipse cx="746" cy="620" rx="6.5" ry="5" transform="rotate(15 746 620)" fill="none" stroke="#3a3b54" stroke-width="1.4"/><path d="M643.5,633Q655,634 666,641.5Q666,646 663,647.5Q654,648 647.5,643.5Q643,639 643.5,633Z" fill="none" stroke="#3a3b54" stroke-width="1.4" stroke-linejoin="round" stroke-linecap="round" /><path d="M740,633Q729,634 717.5,641.5Q717.5,646 720.5,647.5Q730,648 736.5,643.5Q741,639 740,633Z" fill="none" stroke="#3a3b54" stroke-width="1.4" stroke-linejoin="round" stroke-linecap="round" /><path d="M640,627Q637,646 642.5,665M742.5,627Q746,646 741,665" fill="none" stroke="#3a3b54" stroke-width="1.4" stroke-linejoin="round" stroke-linecap="round" /><path d="M643.5,648.5Q660,650 668,653.5Q692,656.5 716,653.5Q724,650 740,648.5" fill="none" stroke="#3a3b54" stroke-width="1.5" stroke-linejoin="round" stroke-linecap="round" /><path d="M644,656Q658,656 663,666M740,656Q726,656 721,666M669,660Q692,657 715,660M672,664.5Q692,662.5 712,664.5" fill="none" stroke="#3a3b54" stroke-width="1.3" stroke-linejoin="round" stroke-linecap="round" /><text x="691.5" y="682.3" font-size="7.2" font-weight="700" font-style="italic" fill="#e5417d" textLength="34" lengthAdjust="spacingAndGlyphs">GROUP</text><path d="M684,679.6H690M727.5,679.6H735" fill="none" stroke="#e5417d" stroke-width="1.1" stroke-linejoin="round" stroke-linecap="round" /><g transform="translate(639,681.5) skewX(-13)" fill="none" stroke="#3a3b54" stroke-linejoin="round" stroke-linecap="butt"><path d="M0.3,39.75V0H31Q37,0 37,6V12.25Q37,18.25 31,18.25H0.3" stroke-width="11.2"/><path d="M58,39.75V16.25Q58,10.25 64,10.25H71" stroke-width="9.6"/><path d="M86.5,10.25H103Q109,10.25 109,16.25V29.25Q109,35.25 103,35.25H86.5Q80.5,35.25 80.5,29.25V16.25Q80.5,10.25 86.5,10.25Z" stroke-width="9"/></g><polygon points="758.31,692.55 750.00,697.35 741.69,692.55 741.69,682.95 750.00,678.15 758.31,682.95" fill="#e5417d" stroke="#e5417d" stroke-width="0.6" stroke-linejoin="round"/><circle cx="750" cy="687.5" r="5" fill="#fdfdfd"/><path d="M746.3,688.5L748.6,691.5" fill="none" stroke="#4a3a4a" stroke-width="1.3" stroke-linejoin="round" stroke-linecap="round" /><polygon points="623.75,727.5 635,727.5 651,757.5 662.5,727.5 673.75,727.5 655,766.25 646.5,766.25" fill="#5cc5e6" stroke="#5cc5e6" stroke-width="0.8" stroke-linejoin="round"/><g transform="translate(630,732.25) skewX(-13)" fill="none" stroke="#5cc5e6" stroke-width="9.5" stroke-linejoin="round" stroke-linecap="butt"><path d="M88,0H62.35Q56.35,0 56.35,6V9Q56.35,14.6 62.35,14.6H78.6Q84.6,14.6 84.6,20.6V23.25Q84.6,29.25 78.6,29.25H52"/><path d="M100.1,34V0H123Q129,0 129,6V12Q129,18 123,18H100.1"/></g>
<rect x="80" y="-20" width="631" height="57.5" fill="#58c4e4"/>
<g transform="translate(161.9,8.6)"><g transform="skewX(-14) scale(1.18,1)" fill="none" stroke="#fff" stroke-linecap="butt" stroke-linejoin="round"><path transform="translate(0.00,0)" d="M0.00,22.4V3.4Q0.00,0 3.39,0H12.20Q15.59,0 15.59,3.4V9.799999999999999Q15.59,13.2 12.20,13.2H0.00" stroke-width="5.9"/><path transform="translate(27.46,0)" d="M0.00,16.15V3.4Q0.00,0 3.39,0H13.10" stroke-width="5.9"/><path transform="translate(46.95,0)" d="M3.39,0H12.20Q15.59,0 15.59,3.4V9.799999999999999Q15.59,13.2 12.20,13.2H3.39Q0.00,13.2 0.00,9.799999999999999V3.4Q0.00,0 3.39,0Z" stroke-width="5.9"/><path transform="translate(73.81,0)" d="M0.00,7.199999999999999H15.68" stroke-width="3.4"/><path transform="translate(96.61,0)" d="M0.00,22.4V3.4Q0.00,0 3.39,0H12.20Q15.59,0 15.59,3.4V9.799999999999999Q15.59,13.2 12.20,13.2H0.00" stroke-width="5.9"/><path transform="translate(124.24,0)" d="M0,-2.95V16.15" stroke-width="5.9"/><path transform="translate(135.08,0)" d="M0.00,6.6H15.59V3.4Q15.59,0 12.20,0H3.39Q0.00,0 0.00,3.4V9.799999999999999Q0.00,13.2 3.39,13.2H16.86" stroke-width="5.9"/><path transform="translate(159.66,0)" d="M17.29,0H3.39Q0.00,0 0.00,3.4V9.799999999999999Q0.00,13.2 3.39,13.2H17.29" stroke-width="5.9"/><path transform="translate(183.39,0)" d="M0.00,6.6H15.59V3.4Q15.59,0 12.20,0H3.39Q0.00,0 0.00,3.4V9.799999999999999Q0.00,13.2 3.39,13.2H16.86" stroke-width="5.9"/><path transform="translate(209.41,0)" d="M0.00,7.199999999999999H15.68" stroke-width="3.4"/><path transform="translate(233.56,0)" d="M-0.85,-2.95L7.33,13.2L11.54,13.2L20.25,-2.95" stroke-width="5.9"/><path transform="translate(259.24,0)" d="M16.44,0H3.39Q0.00,0 0.00,2.38V4.22Q0.00,6.6 3.39,6.6H12.20Q15.59,6.6 15.59,8.98V10.82Q15.59,13.2 12.20,13.2H-1.69" stroke-width="5.9"/><path transform="translate(281.36,0)" d="M0.00,22.4V3.4Q0.00,0 3.39,0H12.20Q15.59,0 15.59,3.4V9.799999999999999Q15.59,13.2 12.20,13.2H0.00" stroke-width="5.9"/><path transform="translate(308.56,0)" d="M-2.80,13.2H2.71" stroke-width="5.9"/><path transform="translate(321.53,0)" d="M17.29,0H3.39Q0.00,0 0.00,3.4V9.799999999999999Q0.00,13.2 3.39,13.2H17.29" stroke-width="5.9"/><path transform="translate(345.25,0)" d="M3.39,0H12.20Q15.59,0 15.59,3.4V9.799999999999999Q15.59,13.2 12.20,13.2H3.39Q0.00,13.2 0.00,9.799999999999999V3.4Q0.00,0 3.39,0Z" stroke-width="5.9"/><path transform="translate(368.98,0)" d="M0.00,16.15V3.4Q0.00,0 3.39,0H19.53Q22.92,0 22.92,3.4V16.15M11.46,0V16.15" stroke-width="5.9"/></g></g>
<polygon points="-20,378.5 -20,457 457,-20 378.5,-20" fill="#2fabd9" fill-opacity="0.5"/>
<g transform="translate(66.3,315.8) rotate(-45)"><g transform="skewX(0) scale(1.0,1)" fill="none" stroke="#fff" stroke-linecap="butt" stroke-linejoin="round"><path transform="translate(0.00,0)" d="M0.00,24.6V2.125Q0.00,0 2.50,0H12.50Q15.00,0 15.00,2.125V13.275Q15.00,15.4 12.50,15.4H0.00" stroke-width="5.9"/><path transform="translate(26.96,0)" d="M0.00,18.35V2.125Q0.00,0 2.50,0H12.60" stroke-width="5.9"/><path transform="translate(46.09,0)" d="M2.50,0H12.50Q15.00,0 15.00,2.125V13.275Q15.00,15.4 12.50,15.4H2.50Q0.00,15.4 0.00,13.275V2.125Q0.00,0 2.50,0Z" stroke-width="5.9"/><path transform="translate(72.47,0)" d="M0.00,8.3H15.39" stroke-width="4.0"/><path transform="translate(92.35,0)" d="M0.00,24.6V2.125Q0.00,0 2.50,0H12.50Q15.00,0 15.00,2.125V13.275Q15.00,15.4 12.50,15.4H0.00" stroke-width="5.9"/><path transform="translate(121.97,0)" d="M0,-2.95V18.35" stroke-width="5.9"/><path transform="translate(132.62,0)" d="M0.00,7.7H15.00V2.125Q15.00,0 12.50,0H2.50Q0.00,0 0.00,2.125V13.275Q0.00,15.4 2.50,15.4H16.25" stroke-width="5.9"/><path transform="translate(156.75,0)" d="M16.66,0H2.50Q0.00,0 0.00,2.125V13.275Q0.00,15.4 2.50,15.4H16.66" stroke-width="5.9"/><path transform="translate(180.04,0)" d="M0.00,7.7H15.00V2.125Q15.00,0 12.50,0H2.50Q0.00,0 0.00,2.125V13.275Q0.00,15.4 2.50,15.4H16.25" stroke-width="5.9"/><path transform="translate(201.43,0)" d="M0.00,8.3H15.39" stroke-width="4.0"/><path transform="translate(226.39,0)" d="M-0.83,-2.95L7.05,15.4L11.10,15.4L19.58,-2.95" stroke-width="5.9"/><path transform="translate(254.51,0)" d="M15.83,0H2.50Q0.00,0 0.00,1.4874999999999998V6.2125Q0.00,7.7 2.50,7.7H12.50Q15.00,7.7 15.00,9.1875V13.912500000000001Q15.00,15.4 12.50,15.4H-1.66" stroke-width="5.9"/><path transform="translate(276.22,0)" d="M0.00,24.6V2.125Q0.00,0 2.50,0H12.50Q15.00,0 15.00,2.125V13.275Q15.00,15.4 12.50,15.4H0.00" stroke-width="5.9"/><path transform="translate(302.93,0)" d="M-2.75,15.4H2.66" stroke-width="5.9"/><path transform="translate(315.66,0)" d="M16.66,0H2.50Q0.00,0 0.00,2.125V13.275Q0.00,15.4 2.50,15.4H16.66" stroke-width="5.9"/><path transform="translate(338.96,0)" d="M2.50,0H12.50Q15.00,0 15.00,2.125V13.275Q15.00,15.4 12.50,15.4H2.50Q0.00,15.4 0.00,13.275V2.125Q0.00,0 2.50,0Z" stroke-width="5.9"/><path transform="translate(362.25,0)" d="M0.00,18.35V2.125Q0.00,0 2.50,0H19.55Q22.05,0 22.05,2.125V18.35M11.03,0V18.35" stroke-width="5.9"/></g></g></g></svg>
</body></html>
